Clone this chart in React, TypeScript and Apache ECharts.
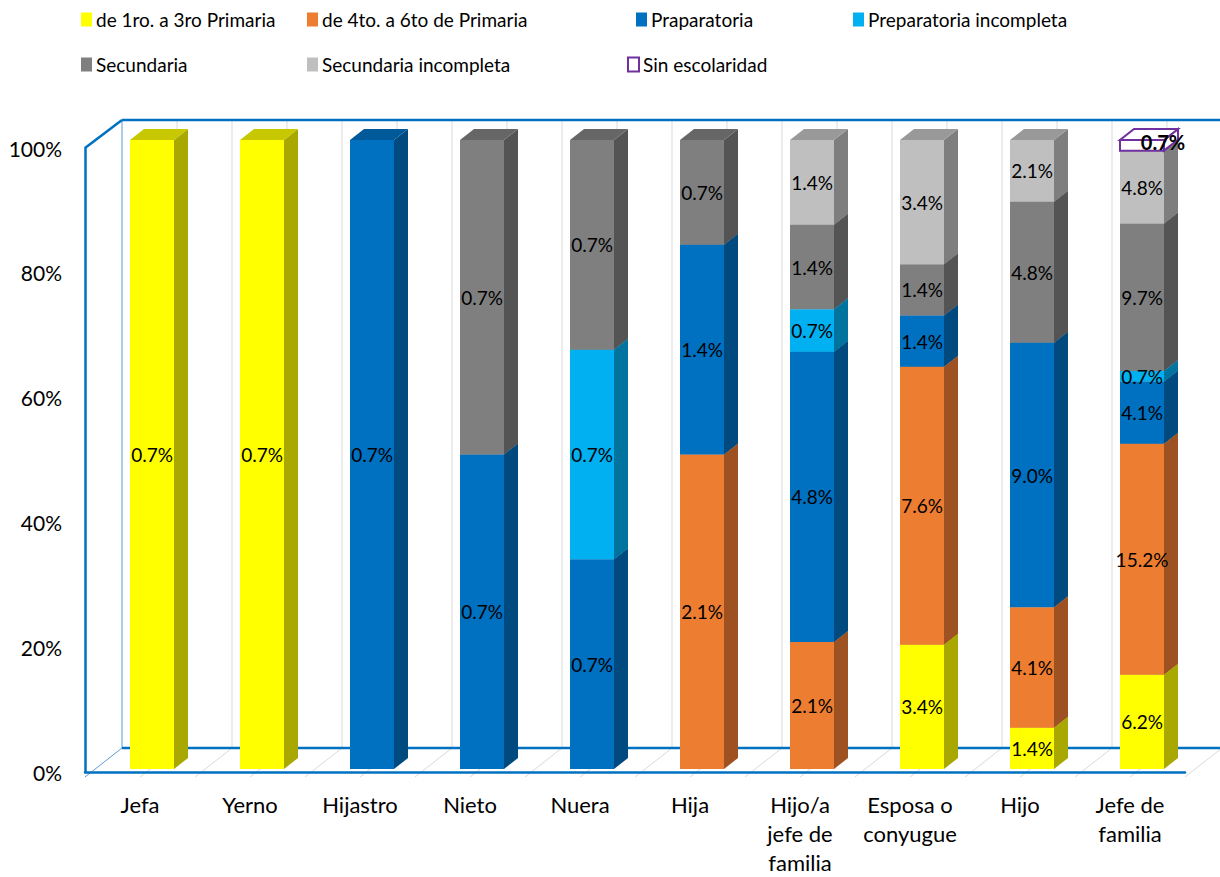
import React, { useEffect, useRef } from "react";
import * as echarts from "echarts";

const categories = [
  "Jefa",
  "Yerno",
  "Hijastro",
  "Nieto",
  "Nuera",
  "Hija",
  "Hijo/a\njefe de\nfamilia",
  "Esposa o\nconyugue",
  "Hijo",
  "Jefe de\nfamilia",
];

// Percent of total sample (as labelled on the chart)
const primaria13 = [0.7, 0.7, null, null, null, null, null, 3.4, 1.4, 6.2];
const primaria46 = [null, null, null, null, null, 2.1, 2.1, 7.6, 4.1, 15.2];
const preparatoria = [null, null, 0.7, 0.7, 0.7, 1.4, 4.8, 1.4, 9.0, 4.1];
const prepIncompleta = [null, null, null, null, 0.7, null, 0.7, null, null, 0.7];
const secundaria = [null, null, null, 0.7, 0.7, 0.7, 1.4, 1.4, 4.8, 9.7];
const secIncompleta = [null, null, null, null, null, null, 1.4, 3.4, 2.1, 4.8];
const sinEscolaridad = [null, null, null, null, null, null, null, null, null, 0.7];

const yTicks = [0, 20, 40, 60, 80, 100];

const seriesDefs = [
  { name: "de 1ro. a 3ro Primaria", values: primaria13, color: "#FFFF00", side: "#A8A800", top: "#C8C800" },
  { name: "de 4to. a 6to de Primaria", values: primaria46, color: "#ED7D31", side: "#9E5221", top: "#BE6427" },
  { name: "Praparatoria", values: preparatoria, color: "#0070C0", side: "#004A80", top: "#005A9A" },
  { name: "Preparatoria incompleta", values: prepIncompleta, color: "#00B0F0", side: "#00749E", top: "#008DC0" },
  { name: "Secundaria", values: secundaria, color: "#7F7F7F", side: "#545454", top: "#666666" },
  { name: "Secundaria incompleta", values: secIncompleta, color: "#BFBFBF", side: "#7E7E7E", top: "#999999" },
  { name: "Sin escolaridad", values: sinEscolaridad, color: "#FFFFFF", side: "#FFFFFF", top: "#FFFFFF", outline: "#7030A0" },
];

const legendPos = [
  { left: 81, top: 10 },
  { left: 307, top: 10 },
  { left: 636, top: 10 },
  { left: 853, top: 10 },
  { left: 81, top: 55 },
  { left: 307, top: 55 },
  { left: 627, top: 55 },
];

const FONT = "Lato, 'Liberation Sans', sans-serif";

// Geometry of the 3D frame (decoration)
const FRONT_LEFT = 85;
const FRONT_TOP = 148;
const FRONT_BOTTOM = 777;
const PLOT_W = 1100;
const PLOT_H = 629;
const WALL_DX = 37;
const WALL_DY = 28;
const BAR_LEFT = 97;
const BAR_TOP = 140;
const DEPTH_DX = 14;
const DEPTH_DY = 11;

function buildStacks() {
  const totals = categories.map((_, i) =>
    seriesDefs.reduce((s, d) => s + (d.values[i] == null ? 0 : (d.values[i] as number)), 0)
  );
  const cum = categories.map(() => 0);
  return seriesDefs.map((d) => {
    const data: any[] = [];
    d.values.forEach((v, i) => {
      if (v == null) return;
      const start = cum[i];
      const end = start + ((v as number) / totals[i]) * 100;
      cum[i] = end;
      data.push([i, start, end, v]);
    });
    return data;
  });
}

function makeRender(def: any) {
  return (params: any, api: any) => {
    const cat = api.value(0);
    const s = api.value(1);
    const e = api.value(2);
    const pct = api.value(3);
    const p0 = api.coord([cat, s]);
    const p1 = api.coord([cat, e]);
    const bw = api.size([1, 0])[0] * 0.4;
    const x0 = p0[0] - bw / 2;
    const x1 = p0[0] + bw / 2;
    const yb = p0[1];
    const yt = p1[1];
    const stroke = def.outline || null;
    const lw = def.outline ? 2 : 0;
    const isSpecial = !!def.outline;
    return {
      type: "group",
      children: [
        {
          type: "polygon",
          shape: { points: [[x1, yt], [x1 + DEPTH_DX, yt - DEPTH_DY], [x1 + DEPTH_DX, yb - DEPTH_DY], [x1, yb]] },
          style: { fill: def.side, stroke, lineWidth: lw },
        },
        {
          type: "polygon",
          shape: { points: [[x0, yt], [x1, yt], [x1 + DEPTH_DX, yt - DEPTH_DY], [x0 + DEPTH_DX, yt - DEPTH_DY]] },
          style: { fill: def.top, stroke, lineWidth: lw },
        },
        {
          type: "rect",
          shape: { x: x0, y: yt, width: bw, height: yb - yt },
          style: { fill: def.color, stroke, lineWidth: lw },
        },
        {
          type: "text",
          z2: 100,
          x: (x0 + x1) / 2 + (isSpecial ? 21 : 0),
          y: (yt + yb) / 2 + (isSpecial ? -3 : 0),
          style: {
            text: pct.toFixed(1) + "%",
            fill: "#000000",
            fontSize: isSpecial ? 20 : 19,
            fontFamily: FONT,
            fontWeight: isSpecial ? "bold" : "normal",
            align: "center",
            verticalAlign: "middle",
          },
        },
      ],
    };
  };
}

function frameGraphics() {
  const blue = "#0070C0";
  const thinBlue = "#5B9BD5";
  const grid = "#D9D9D9";
  const bx = FRONT_LEFT + WALL_DX;
  const by = FRONT_TOP - WALL_DY;
  const byb = FRONT_BOTTOM - 29;
  const els: any[] = [];
  const half = PLOT_W / categories.length / 2;
  for (let k = 1; k <= categories.length * 2; k++) {
    const x = bx + half * k;
    if (k < categories.length * 2) {
      els.push({ type: "line", z: 0, shape: { x1: x, y1: by, x2: x, y2: byb }, style: { stroke: grid, lineWidth: 1 } });
    }
    els.push({
      type: "line",
      z: 0,
      shape: { x1: FRONT_LEFT + half * k, y1: FRONT_BOTTOM, x2: bx + half * k, y2: byb },
      style: { stroke: grid, lineWidth: 1 },
    });
  }
  els.push({ type: "line", z: 0, shape: { x1: bx, y1: by, x2: bx, y2: byb }, style: { stroke: thinBlue, lineWidth: 1 } });
  els.push({ type: "line", z: 0, shape: { x1: FRONT_LEFT, y1: FRONT_BOTTOM, x2: bx, y2: byb }, style: { stroke: thinBlue, lineWidth: 1 } });
  els.push({ type: "line", z: 0, shape: { x1: bx, y1: byb, x2: 1220, y2: byb }, style: { stroke: blue, lineWidth: 2.5 } });
  els.push({ type: "line", z: 0, shape: { x1: bx, y1: by, x2: 1220, y2: by }, style: { stroke: blue, lineWidth: 2.5 } });
  els.push({ type: "line", z: 0, shape: { x1: FRONT_LEFT, y1: FRONT_TOP, x2: bx, y2: by }, style: { stroke: blue, lineWidth: 2.5 } });
  return els;
}

export default function App() {
  const ref = useRef<HTMLDivElement>(null);
  useEffect(() => {
    if (!ref.current) return;
    const chart = echarts.init(ref.current, null, { renderer: "svg" });
    const stacks = buildStacks();
    const option: any = {
      animation: false,
      backgroundColor: "#FFFFFF",
      textStyle: { fontFamily: FONT },
      legend: seriesDefs.map((d, i) => ({
        left: legendPos[i].left,
        top: legendPos[i].top,
        padding: 0,
        icon: "rect",
        itemWidth: 11,
        itemHeight: 14,
        itemGap: 0,
        selectedMode: false,
        textStyle: { fontSize: 19, color: "#000000", fontFamily: FONT, padding: [0, 0, 0, -1] },
        data: [
          {
            name: d.name,
            itemStyle: d.outline
              ? { color: "#FFFFFF", borderColor: d.outline, borderWidth: 2 }
              : { color: d.color, borderWidth: 0 },
          },
        ],
      })),
      grid: [
        { left: BAR_LEFT, top: BAR_TOP, width: PLOT_W, height: PLOT_H },
        { left: FRONT_LEFT, top: FRONT_TOP, width: PLOT_W, height: PLOT_H },
      ],
      xAxis: [
        { type: "category", gridIndex: 0, data: categories, show: false },
        {
          type: "category",
          gridIndex: 1,
          data: categories,
          axisLine: { show: true, lineStyle: { color: "#0070C0", width: 2.5 } },
          axisTick: { show: false },
          splitLine: { show: false },
          axisLabel: {
            fontSize: 22,
            color: "#000000",
            fontFamily: FONT,
            margin: 18,
            lineHeight: 29,
            interval: 0,
          },
        },
      ],
      yAxis: [
        { type: "value", gridIndex: 0, min: 0, max: 100, show: false },
        {
          type: "value",
          gridIndex: 1,
          min: 0,
          max: 100,
          interval: 20,
          axisLine: { show: true, lineStyle: { color: "#0070C0", width: 2.5 } },
          axisTick: { show: false },
          splitLine: { show: false },
          axisLabel: {
            fontSize: 21,
            color: "#000000",
            fontFamily: FONT,
            margin: 23,
            padding: [4, 0, 0, 0],
            formatter: (v: number) => (yTicks.includes(v) ? v + "%" : ""),
          },
        },
      ],
      graphic: { elements: frameGraphics() },
      series: seriesDefs.map((d, i) => ({
        type: "custom",
        name: d.name,
        xAxisIndex: 0,
        yAxisIndex: 0,
        z: 2,
        itemStyle: { color: d.outline ? "#FFFFFF" : d.color },
        renderItem: makeRender(d),
        data: stacks[i],
        encode: { x: 0, y: [1, 2] },
      })),
    };
    chart.setOption(option);
    return () => chart.dispose();
  }, []);
  return (
    <div
      ref={ref}
      style={{ position: "fixed", left: 0, top: 0, width: 1220, height: 877, background: "#fff" }}
    />
  );
}
